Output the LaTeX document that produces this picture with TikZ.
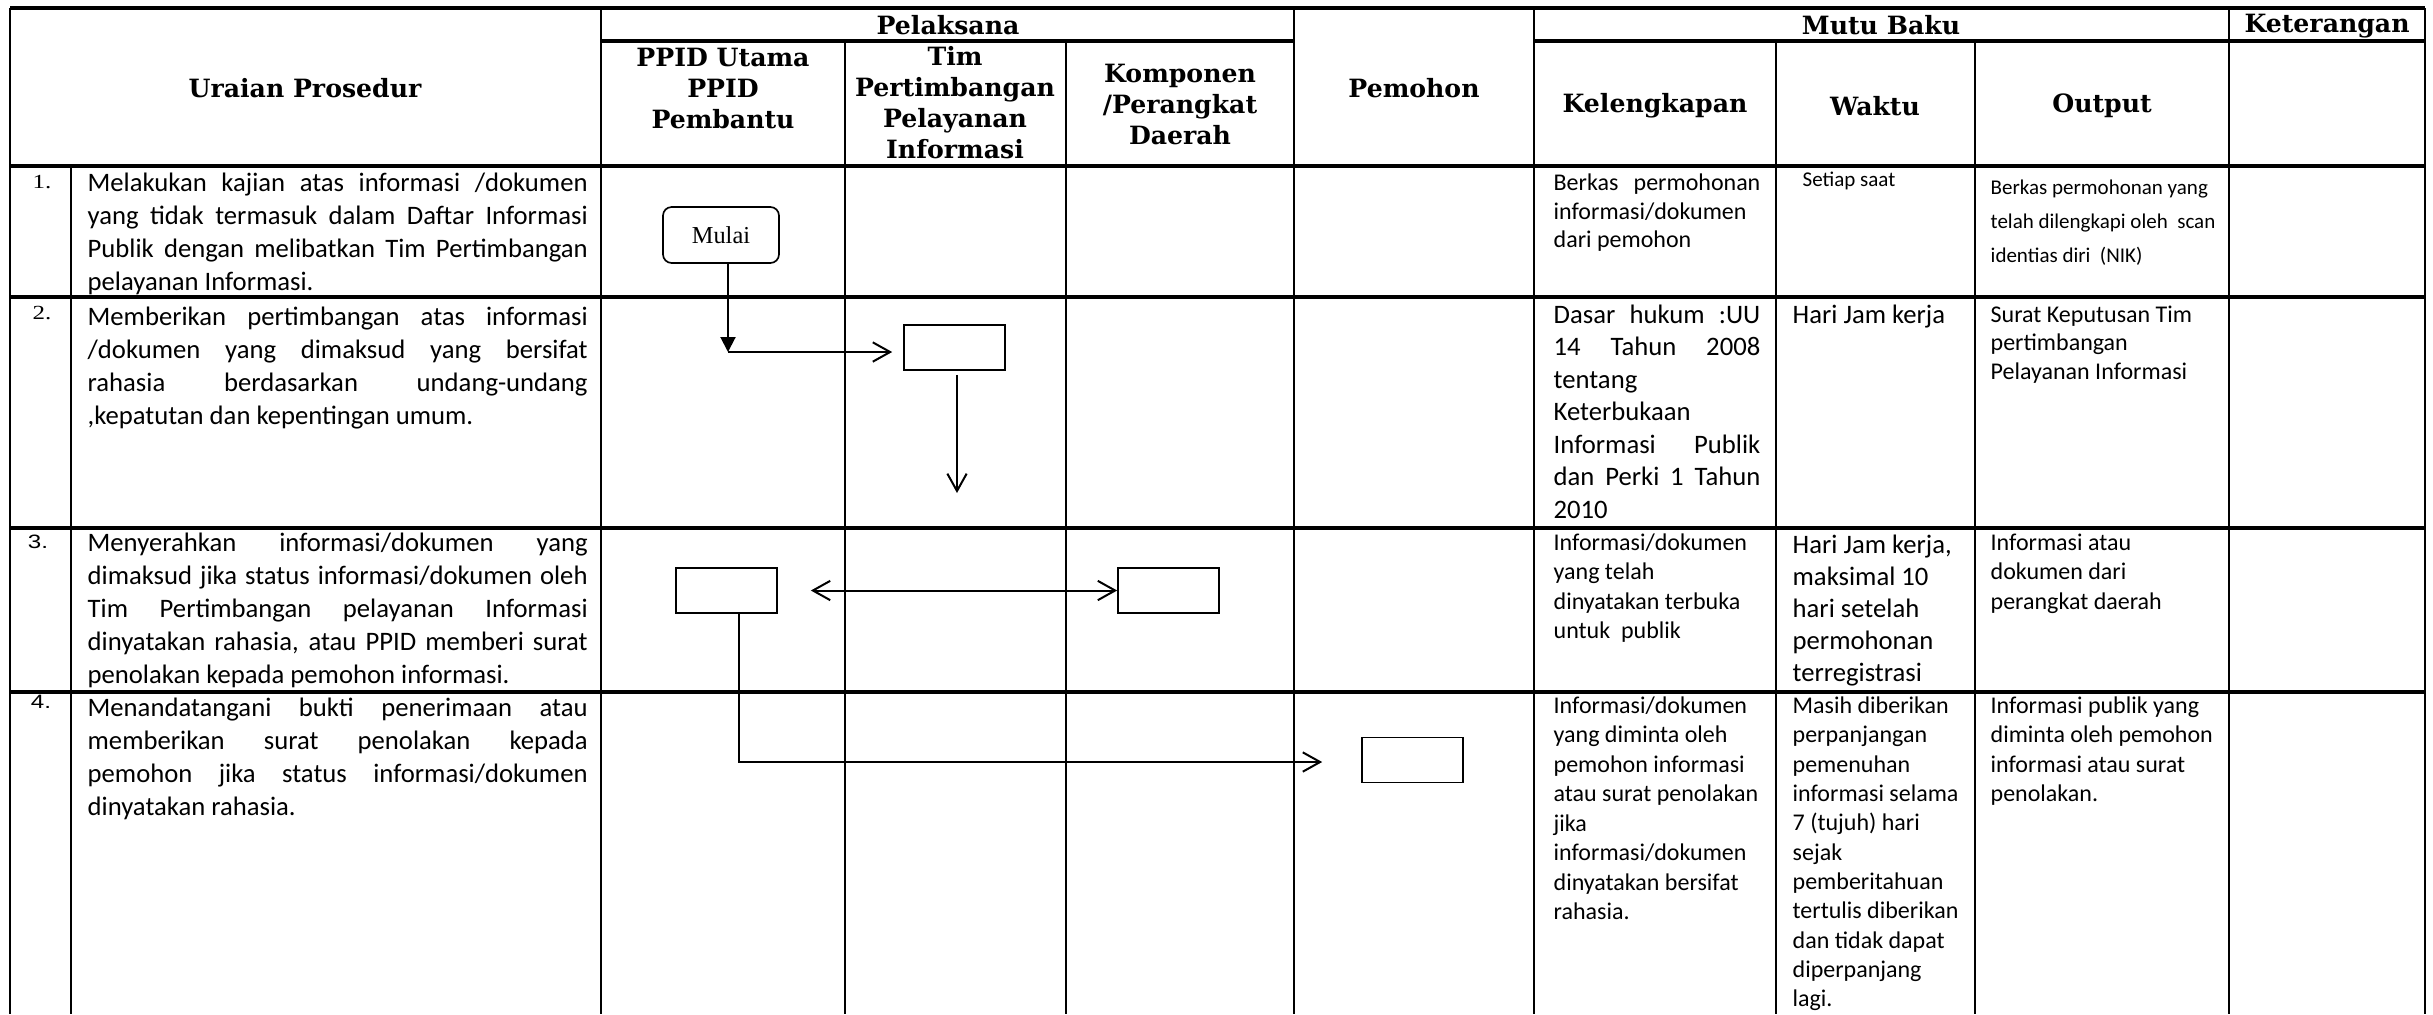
\documentclass[tikz,border=0pt]{standalone}
\usepackage{fontspec}
\setmainfont{Carlito}
\newfontfamily\hdrfont{DejaVu Serif}
\newfontfamily\serifnum{Liberation Serif}[FakeStretch=1.25]
\newfontfamily\sansnum{Liberation Sans}[FakeStretch=1.25]
\newfontfamily\mulaifont{Liberation Serif}
\usetikzlibrary{arrows.meta}
\tikzset{
  hline/.style={line width=1pt},
  vline/.style={line width=0.75pt},
  hdr/.style={font=\hdrfont\bfseries\fontsize{7.55}{9.3}\selectfont, align=center, inner sep=0pt},
  numnode/.style={inner sep=0pt},
  bigtxt/.style={anchor=north west, inner sep=0pt, font=\fontsize{8}{9.9}\selectfont},
  midtxt/.style={anchor=north west, inner sep=0pt, font=\fontsize{7.2}{8.85}\selectfont},
  smalltxt/.style={anchor=north west, inner sep=0pt, font=\fontsize{6.3}{10.2}\selectfont},
  flowbox/.style={draw, line width=0.5pt, minimum width=30.3pt, minimum height=13.5pt, inner sep=0pt},
  startbox/.style={draw, line width=0.5pt, rounded corners=2.6pt, minimum width=34.8pt, minimum height=16.8pt, inner sep=0pt, font=\mulaifont\fontsize{7.3}{8}\selectfont},
  arr/.style={line width=0.6pt, -{Straight Barb[length=5.2pt,width=5.8pt]}},
  arrtwo/.style={line width=0.6pt, {Straight Barb[length=5.2pt,width=5.8pt]}-{Straight Barb[length=5.2pt,width=5.8pt]}},
  arrfill/.style={line width=0.6pt, -{Triangle[length=4.5pt,width=4.5pt]}}
}
\begin{document}
\begin{tikzpicture}[x=0.3pt,y=-0.3pt]
\useasboundingbox (0,0) rectangle (2433,1014);
% horizontal lines
\draw[hline] (10,8) -- (2425,8);
\draw[hline] (601,41) -- (1294,41);
\draw[hline] (1534,41) -- (2425,41);
\draw[hline] (10,166) -- (2425,166);
\draw[hline] (10,297) -- (2425,297);
\draw[hline] (10,528) -- (2425,528);
\draw[hline] (10,692) -- (2425,692);
% vertical lines
\draw[vline] (10,8) -- (10,1014);
\draw[vline] (71,166) -- (71,1014);
\draw[vline] (601,8) -- (601,1014);
\draw[vline] (845,41) -- (845,1014);
\draw[vline] (1066,41) -- (1066,1014);
\draw[vline] (1294,8) -- (1294,1014);
\draw[vline] (1534,8) -- (1534,1014);
\draw[vline] (1776,41) -- (1776,1014);
\draw[vline] (1975,41) -- (1975,1014);
\draw[vline] (2229,8) -- (2229,1014);
\draw[vline] (2425,8) -- (2425,1014);

% header texts
\node[hdr] (hUraian) at (305,88) {Uraian Prosedur};
\node[hdr] (hPelaksana) at (948,25) {Pelaksana};
\node[hdr] (hPPID) at (723,88) {PPID Utama\\PPID\\Pembantu};
\node[hdr] (hTim) at (955,103) {Tim\\Pertimbangan\\Pelayanan\\Informasi};
\node[hdr] (hKomp) at (1180,104) {Komponen\\/Perangkat\\Daerah};
\node[hdr] (hPemohon) at (1414,88) {Pemohon};
\node[hdr] (hMutu) at (1881,25) {Mutu Baku};
\node[hdr] (hKet) at (2327,26) {Keterangan};
\node[hdr] (hKel) at (1655,106) {Kelengkapan};
\node[hdr] (hWaktu) at (1875,106) {Waktu};
\node[hdr] (hOutput) at (2102,106) {Output};

% numbers
\node[numnode, font=\serifnum\fontsize{6}{7}\selectfont] (n1) at (42,182) {1.};
\node[numnode, font=\serifnum\fontsize{6}{7}\selectfont] (n2) at (42,313) {2.};
\node[numnode, font=\sansnum\fontsize{5.8}{7}\selectfont] (n3) at (38,542) {3.};
\node[numnode, font=\sansnum\fontsize{5.8}{7}\selectfont] (n4) at (41,702) {4.};

% uraian
\node[bigtxt, text width=150pt, align=justify] (u1) at (87,172.5) {Melakukan kajian atas informasi /dokumen\linebreak yang tidak termasuk dalam Daftar Informasi\linebreak Publik dengan melibatkan Tim Pertimbangan\linebreak pelayanan Informasi.};
\node[bigtxt, text width=150pt, align=justify] (u2) at (87,306) {Memberikan pertimbangan atas informasi\linebreak /dokumen yang dimaksud yang bersifat\linebreak rahasia berdasarkan undang-undang\linebreak ,kepatutan dan kepentingan umum.};
\node[bigtxt, text width=150pt, align=justify] (u3) at (87,532) {Menyerahkan informasi/dokumen yang\linebreak dimaksud jika status informasi/dokumen oleh\linebreak Tim Pertimbangan pelayanan Informasi\linebreak dinyatakan rahasia, atau PPID memberi surat\linebreak penolakan kepada pemohon informasi.};
\node[bigtxt, text width=150pt, align=justify] (u4) at (87,697) {Menandatangani bukti penerimaan atau\linebreak memberikan surat penolakan kepada\linebreak pemohon jika status informasi/dokumen\linebreak dinyatakan rahasia.};

% kelengkapan
\node[midtxt, font=\fontsize{7.2}{8.6}\selectfont, text width=62pt, align=justify] (k1) at (1553,173) {Berkas permohonan\linebreak informasi/dokumen\\dari pemohon};
\node[bigtxt, font=\fontsize{8}{9.75}\selectfont, text width=62pt, align=justify] (k2) at (1553,304) {Dasar hukum :UU\linebreak 14 Tahun 2008\linebreak tentang\\Keterbukaan\\Informasi Publik\linebreak dan Perki 1 Tahun\linebreak 2010};
\node[midtxt, align=left] (k3) at (1553,533) {Informasi/dokumen\\yang telah\\dinyatakan terbuka\\untuk\ \ publik};
\node[midtxt, align=left] (k4) at (1553,696) {Informasi/dokumen\\yang diminta oleh\\pemohon informasi\\atau surat penolakan\\jika\\informasi/dokumen\\dinyatakan bersifat\\rahasia.};

% waktu
\node[smalltxt] (w1) at (1802,171) {Setiap saat};
\node[bigtxt] (w2) at (1792,304) {Hari Jam kerja};
\node[bigtxt, font=\fontsize{8}{9.6}\selectfont, align=left] (w3) at (1792,534) {Hari Jam kerja,\\maksimal 10\\hari setelah\\permohonan\\terregistrasi};
\node[midtxt, font=\fontsize{7.2}{8.8}\selectfont, align=left] (w4) at (1792,696) {Masih diberikan\\perpanjangan\\pemenuhan\\informasi selama\\7 (tujuh) hari\\sejak\\pemberitahuan\\tertulis diberikan\\dan tidak dapat\\diperpanjang\\lagi.};

% output
\node[smalltxt, align=left] (o1) at (1990,179.5) {Berkas permohonan yang\\telah dilengkapi oleh\ \ scan\\identias diri\ \ (NIK)};
\node[midtxt, font=\fontsize{7.2}{8.55}\selectfont, align=left] (o2) at (1990,305) {Surat Keputusan Tim\\pertimbangan\\Pelayanan Informasi};
\node[midtxt, align=left] (o3) at (1990,533) {Informasi atau\\dokumen dari\\perangkat daerah};
\node[midtxt, align=left] (o4) at (1990,696) {Informasi publik yang\\diminta oleh pemohon\\informasi atau surat\\penolakan.};

% flow elements
\node[startbox] (mulai) at (721,235) {Mulai};
\node[flowbox] (b2) at (954.5,347.5) {};
\node[flowbox] (b3a) at (726.5,590.5) {};
\node[flowbox] (b3b) at (1168.5,590.5) {};
\node[flowbox] (b4) at (1412.5,760) {};

\coordinate (j1) at (728,352);
\coordinate (e2) at (957,493);
\coordinate (c4) at (739,762);

\draw[arrfill] (mulai.south -| j1) -- (j1);
\draw[arr, shorten >=3.3pt] (j1) -- (j1 -| b2.west);
\draw[arr, shorten <=1.2pt] (b2.south -| e2) -- (e2);
\draw[arrtwo, shorten <=9.9pt] (b3a.east) -- (b3b.west);
\draw[arr, shorten >=11.7pt] (b3a.south -| c4) -- (c4) -- (c4 -| b4.west);
\end{tikzpicture}
\end{document}
